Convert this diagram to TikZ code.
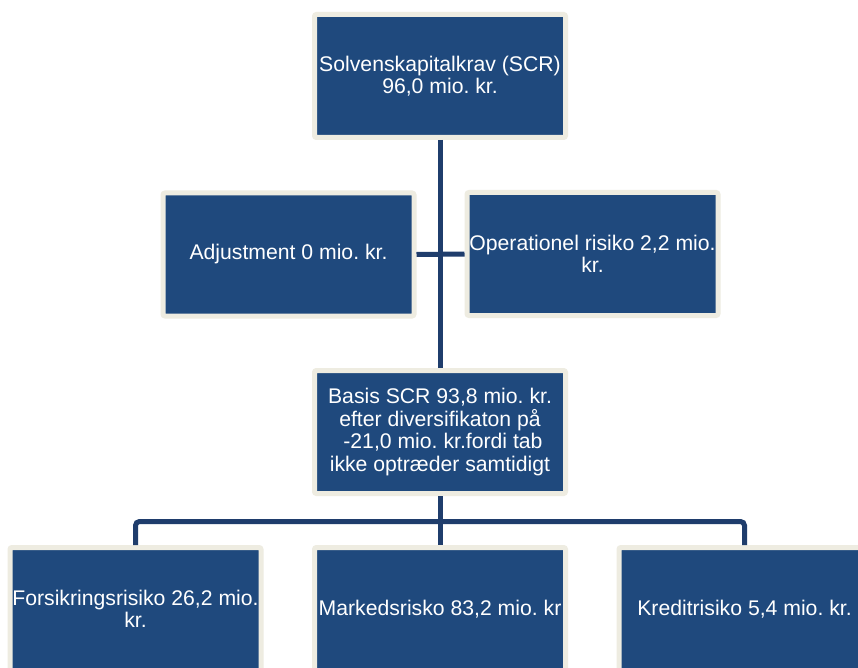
\documentclass[tikz,border=0pt]{standalone}
\usepackage{fontspec}
\setmainfont{Liberation Sans}
\frenchspacing
\definecolor{boxblue}{RGB}{31,73,125}
\definecolor{cream}{RGB}{238,236,225}
\definecolor{linkblue}{RGB}{31,61,108}
\begin{document}
\begin{tikzpicture}[x=1pt,y=-1pt,
  orgbox/.style={rectangle, draw=cream, fill=boxblue, line width=5pt,
    rounded corners=2pt, minimum width=251pt, minimum height=123pt,
    inner sep=0pt, align=center, text=white,
    font=\fontsize{21.2}{22.5}\selectfont\frenchspacing},
  conn/.style={draw=linkblue, line width=5pt}]
\useasboundingbox (0,0) rectangle (858,668);
\fill[white] (0,0) rectangle (858,668);
\coordinate (bus) at (440,521.5);
\node[orgbox] (top) at (440,76) {Solvenskapitalkrav (SCR)\\96,0 mio. kr.};
\node[orgbox] (adj) at (288.5,254.5) {Adjustment 0 mio. kr.};
\node[orgbox] (op) at (592.5,254) {Operationel risiko 2,2 mio.\\kr.};
\node[orgbox] (basis) at (440,432) {Basis SCR 93,8 mio. kr.\\efter diversifikaton på\\\ -21,0 mio. kr.fordi tab\\ikke optræder samtidigt};
\node[orgbox] (f) at (135.5,609) {Forsikringsrisiko 26,2 mio.\\kr.};
\node[orgbox] (m) at (440,609) {Markedsrisko 83,2 mio. kr};
\node[orgbox] (k) at (744.5,609) {Kreditrisiko 5,4 mio. kr.};
\draw[conn] (top.south) -- (basis.north);
\draw[conn] (adj.east) -- (op.west);
\draw[conn] (basis.south) -- (m.north);
\draw[conn, rounded corners=4pt] (f.north) |- (bus) -| (k.north);
\end{tikzpicture}
\end{document}
